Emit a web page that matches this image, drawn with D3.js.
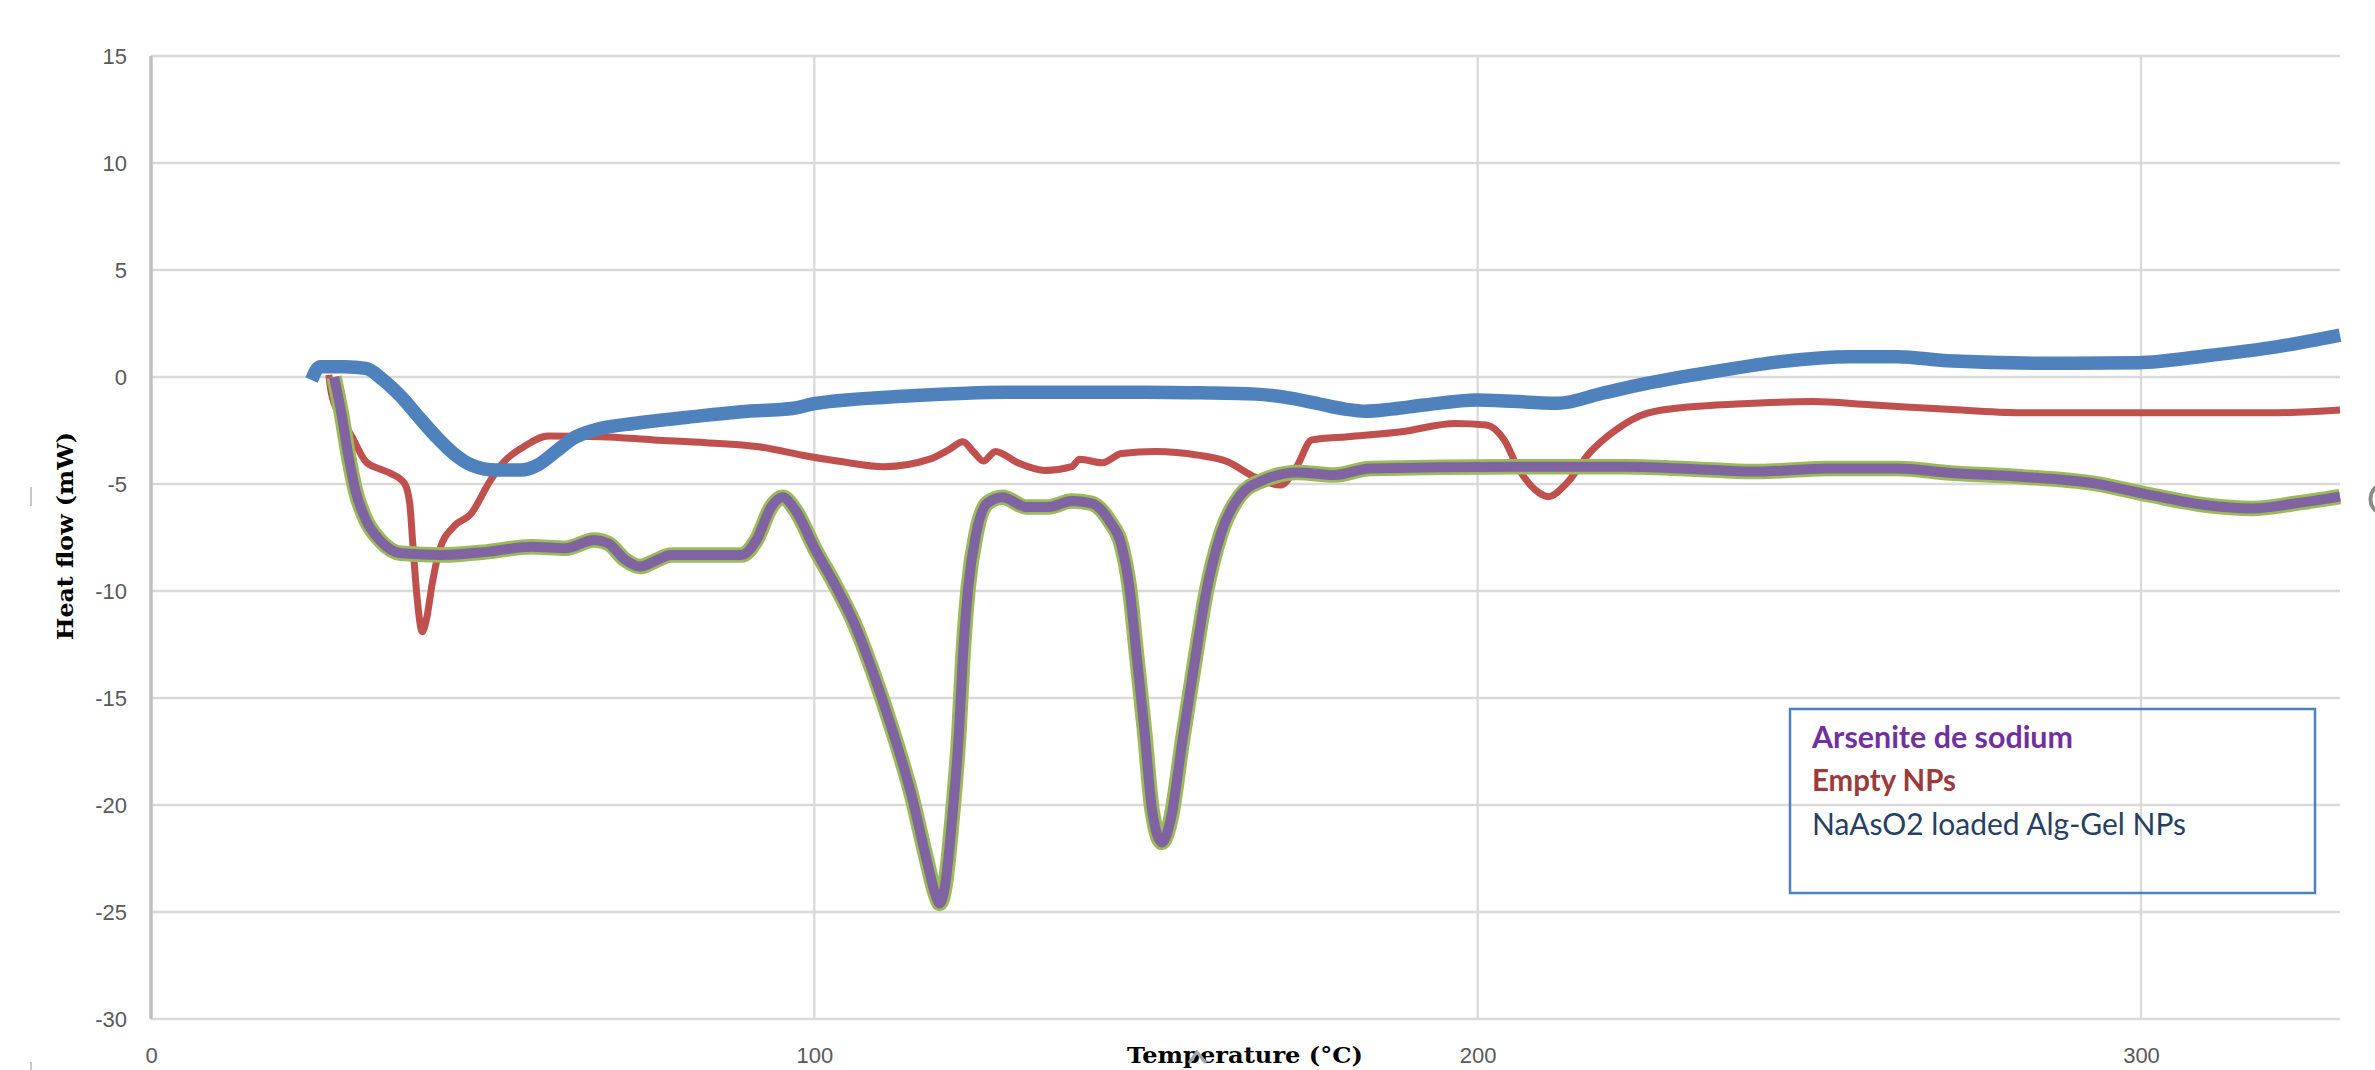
<!DOCTYPE html>
<html>
<head>
<meta charset="utf-8">
<script src="https://cdn.jsdelivr.net/npm/d3@7"></script>
<style>
  html, body { margin: 0; padding: 0; background: #ffffff; }
  svg { display: block; }
</style>
</head>
<body>
<svg id="chart"></svg>
<script>
// Chart size and plot box
const chartWidth = 2375;
const chartHeight = 1070;
const margin = { top: 56, right: 35, bottom: 51, left: 151 };

// Axis ticks
const xTicks = [0, 100, 200, 300];
const yTicks = [15, 10, 5, 0, -5, -10, -15, -20, -25, -30];

// NaAsO2 loaded Alg-Gel NPs (blue)
const loadedTemp = [24.2, 25.5, 29.2, 32.4, 35, 37.7, 40.3, 43, 45.6, 48.3, 52, 55.7, 58.3, 61, 63.6, 66.8, 73.1, 81, 89, 96.9, 100.1, 114.6, 129, 150, 158.2, 166.5, 172, 176, 180, 183.1, 187, 191.9, 200, 212.1, 218.8, 225.5, 235.6, 245.7, 255.9, 263.3, 270.8, 287.4, 299.6, 309.6, 320.6, 330];
const loadedFlow = [-0.14, 0.48, 0.48, 0.4, -0.14, -0.92, -1.85, -2.79, -3.57, -4.11, -4.35, -4.35, -4.11, -3.49, -2.87, -2.48, -2.16, -1.88, -1.62, -1.46, -1.24, -0.88, -0.71, -0.71, -0.74, -0.8, -1.0, -1.25, -1.5, -1.6, -1.5, -1.31, -1.07, -1.23, -0.76, -0.3, 0.25, 0.72, 0.95, 0.95, 0.76, 0.64, 0.67, 0.98, 1.42, 1.96];

// Empty NPs (red)
const emptyTemp = [26.8, 27.2, 28.5, 30.3, 32.4, 34.5, 36.1, 38.2, 39, 39.5, 40.1, 40.9, 41.6, 42.4, 43.5, 45.6, 48.3, 50.9, 53, 56.2, 59.9, 67.8, 75.8, 83.7, 91.6, 99, 104, 110.5, 117.4, 120.3, 122.4, 124, 125.5, 127.3, 130.7, 134.8, 138.8, 140, 143.4, 146.3, 151.5, 157.8, 162.3, 166.3, 170.3, 172.7, 175, 180.4, 188.5, 196.6, 201.3, 204, 206, 208.7, 210.7, 213.4, 216.8, 220.8, 225.5, 232.3, 239, 250.5, 259.2, 270.8, 281.9, 300, 320.6, 330];
const emptyFlow = [0.1, -0.76, -1.8, -2.79, -3.96, -4.3, -4.5, -4.97, -5.9, -7.93, -10.27, -11.9, -11.2, -9.64, -8.08, -7.0, -6.37, -4.97, -4.03, -3.26, -2.76, -2.79, -2.94, -3.07, -3.26, -3.7, -3.95, -4.19, -3.84, -3.39, -3.03, -3.5, -3.93, -3.48, -4.01, -4.37, -4.19, -3.84, -4.01, -3.57, -3.48, -3.65, -3.96, -4.66, -5.05, -4.19, -2.94, -2.79, -2.56, -2.17, -2.24, -2.94, -4.19, -5.28, -5.59, -4.97, -3.57, -2.48, -1.7, -1.39, -1.26, -1.15, -1.3, -1.51, -1.67, -1.67, -1.67, -1.54];

// Arsenite de sodium (purple with green casing)
const arseniteTemp = [27.6, 28.7, 29.7, 30.8, 32.4, 34.5, 37.7, 44, 50.9, 57.3, 62.5, 66.8, 68.9, 71.5, 73.7, 76.3, 78.4, 89, 91.3, 93.5, 95.2, 97.2, 100.1, 103, 105.9, 108.8, 111.7, 114.6, 116.9, 118.3, 118.9, 119.7, 120.9, 121.8, 122.4, 123.2, 124.4, 126.1, 128.4, 131.9, 135.3, 138.8, 141.7, 144.6, 146.3, 147.5, 148.6, 149.8, 150.9, 152.4, 153.8, 155.5, 157.3, 159, 161.3, 164.2, 167.7, 172.9, 178.4, 183.8, 205.4, 222.2, 235.6, 242.4, 252.5, 263.3, 270.8, 281.9, 292.9, 301.3, 309.6, 316.8, 323.4, 330];
const arseniteFlow = [0, -1.7, -3.57, -5.28, -6.68, -7.62, -8.24, -8.32, -8.16, -7.93, -8.0, -7.62, -7.77, -8.55, -8.86, -8.55, -8.32, -8.32, -7.6, -6.07, -5.62, -6.25, -8.04, -9.64, -11.43, -13.76, -16.44, -19.48, -22.52, -24.22, -24.6, -23.78, -20.2, -16.62, -13.05, -9.83, -7.32, -5.89, -5.62, -6.07, -6.07, -5.8, -5.89, -6.78, -7.86, -9.83, -13.05, -16.62, -20.2, -21.75, -20.56, -16.98, -13.4, -10.18, -7.32, -5.53, -4.82, -4.46, -4.58, -4.27, -4.19, -4.19, -4.35, -4.42, -4.27, -4.27, -4.47, -4.66, -4.97, -5.51, -5.98, -6.14, -5.9, -5.59];

// Legend text box
const legendLabels = ["Arsenite de sodium", "Empty NPs", "NaAsO2 loaded Alg-Gel NPs"];
const legendColors = ["#7030a0", "#9c3b3b", "#263f63"];
const legendWeights = ["bold", "bold", "normal"];
const legendLengths = [261, 144, 374];

const svg = d3.select("#chart")
  .attr("width", chartWidth)
  .attr("height", chartHeight);

svg.append("rect")
  .attr("width", chartWidth)
  .attr("height", chartHeight)
  .attr("fill", "#ffffff");

// Scales
const xScale = d3.scaleLinear()
  .domain([0, 330])
  .range([margin.left, chartWidth - margin.right]);

const yScale = d3.scaleLinear()
  .domain([-30, 15])
  .range([chartHeight - margin.bottom, margin.top]);

// Gridlines
svg.append("g")
  .selectAll("line")
  .data(yTicks)
  .enter()
  .append("line")
  .attr("x1", margin.left)
  .attr("x2", chartWidth - margin.right)
  .attr("y1", d => yScale(d))
  .attr("y2", d => yScale(d))
  .attr("stroke", "#d9d9d9")
  .attr("stroke-width", 2.4);

svg.append("g")
  .selectAll("line")
  .data(xTicks.filter(d => d > 0))
  .enter()
  .append("line")
  .attr("x1", d => xScale(d))
  .attr("x2", d => xScale(d))
  .attr("y1", margin.top)
  .attr("y2", chartHeight - margin.bottom)
  .attr("stroke", "#d9d9d9")
  .attr("stroke-width", 2.3);

// Left axis line
svg.append("line")
  .attr("x1", margin.left)
  .attr("x2", margin.left)
  .attr("y1", margin.top)
  .attr("y2", chartHeight - margin.bottom)
  .attr("stroke", "#bfbfbf")
  .attr("stroke-width", 3.5);

// Tick labels
const yAxis = d3.axisLeft(yScale).tickValues(yTicks).tickSize(0).tickPadding(24).tickFormat(d => String(d));
const xAxis = d3.axisBottom(xScale).tickValues(xTicks).tickSize(0).tickPadding(28).tickFormat(d => String(d));

svg.append("g")
  .attr("class", "y-axis")
  .attr("transform", `translate(${margin.left},0)`)
  .call(yAxis);

svg.append("g")
  .attr("class", "x-axis")
  .attr("transform", `translate(0,${chartHeight - margin.bottom})`)
  .call(xAxis);

svg.selectAll(".y-axis .domain, .x-axis .domain").remove();
svg.selectAll(".y-axis text, .x-axis text")
  .attr("fill", "#595959")
  .style("font-family", "'Liberation Sans', Arial, sans-serif")
  .style("font-size", "22px");

// Axis titles
svg.append("text")
  .attr("transform", "translate(73,536) rotate(-90)")
  .attr("text-anchor", "middle")
  .attr("textLength", 208)
  .attr("lengthAdjust", "spacingAndGlyphs")
  .style("font-family", "'DejaVu Serif', 'Liberation Serif', serif")
  .style("font-weight", "bold")
  .style("font-size", "23px")
  .attr("fill", "#000000")
  .text("Heat flow (mW)");

svg.append("text")
  .attr("x", 1245)
  .attr("y", 1063)
  .attr("text-anchor", "middle")
  .attr("textLength", 236)
  .attr("lengthAdjust", "spacingAndGlyphs")
  .style("font-family", "'DejaVu Serif', 'Liberation Serif', serif")
  .style("font-weight", "bold")
  .style("font-size", "23px")
  .attr("fill", "#000000")
  .text("Temperature (°C)");

// Lines
function makeLine(temps, flows) {
  return d3.line()
    .x(i => xScale(temps[i]))
    .y(i => yScale(flows[i]))
    .curve(d3.curveMonotoneX)(d3.range(temps.length));
}

const seriesLayers = [
  { temps: emptyTemp, flows: emptyFlow, color: "#c0504d", width: 7 },
  { temps: arseniteTemp, flows: arseniteFlow, color: "#9bbb59", width: 15.5 },
  { temps: arseniteTemp, flows: arseniteFlow, color: "#8064a2", width: 10 },
  { temps: loadedTemp, flows: loadedFlow, color: "#4f81bd", width: 13.5 }
];

svg.append("g")
  .selectAll("path")
  .data(seriesLayers)
  .enter()
  .append("path")
  .attr("d", d => makeLine(d.temps, d.flows))
  .attr("fill", "none")
  .attr("stroke", d => d.color)
  .attr("stroke-width", d => d.width)
  .attr("stroke-linejoin", "round")
  .attr("stroke-linecap", "butt");

// Legend box (text only, no symbols)
svg.append("rect")
  .attr("x", 1790)
  .attr("y", 709)
  .attr("width", 525)
  .attr("height", 184)
  .attr("fill", "none")
  .attr("stroke", "#4f81bd")
  .attr("stroke-width", 2.5);

svg.append("g")
  .selectAll("text")
  .data(legendLabels)
  .enter()
  .append("text")
  .attr("x", 1812)
  .attr("y", (d, i) => [748, 791, 835][i])
  .attr("textLength", (d, i) => legendLengths[i])
  .attr("lengthAdjust", "spacingAndGlyphs")
  .attr("fill", (d, i) => legendColors[i])
  .style("font-family", "Lato, 'Open Sans', sans-serif")
  .style("font-weight", (d, i) => legendWeights[i])
  .style("font-size", "30px")
  .text(d => d);

// Small stray marks seen in the original image
svg.append("line")
  .attr("x1", 31).attr("x2", 31)
  .attr("y1", 487).attr("y2", 506)
  .attr("stroke", "#c8c8c8")
  .attr("stroke-width", 2);

svg.append("line")
  .attr("x1", 31).attr("x2", 31)
  .attr("y1", 1062).attr("y2", 1070)
  .attr("stroke", "#c8c8c8")
  .attr("stroke-width", 2);

svg.append("path")
  .attr("d", "M1189,1063 L1197,1052 L1206,1063")
  .attr("fill", "none")
  .attr("stroke", "#a6a6a6")
  .attr("stroke-width", 3);

// partial glyph cut by the right edge
svg.append("path")
  .attr("d", "M2378,486 A12,14 0 0 0 2378,512")
  .attr("fill", "none")
  .attr("stroke", "#8c8c8c")
  .attr("stroke-width", 4);
</script>
</body>
</html>
